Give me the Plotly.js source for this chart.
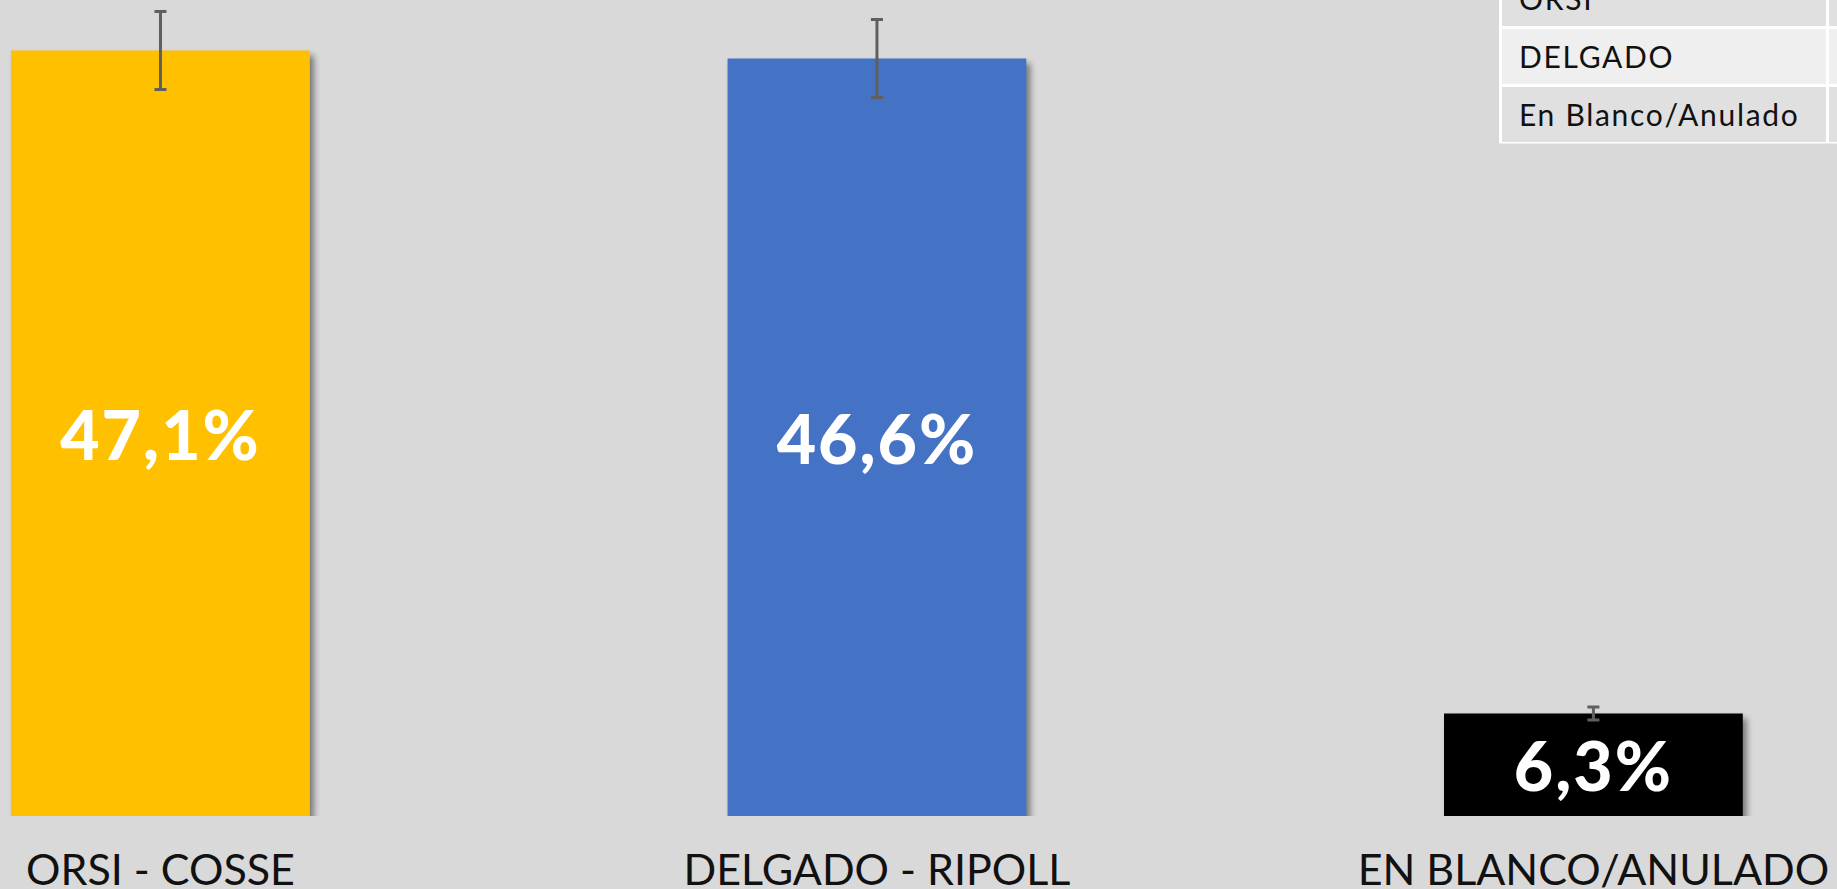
<!DOCTYPE html>
<html>
<head>
<meta charset="utf-8">
<script src="https://cdn.plot.ly/plotly-3.0.1.min.js"></script>
<style>
  html, body { margin: 0; padding: 0; background: #d9d9d9; }
  #chart { width: 1837px; height: 889px; }
  /* soft drop shadow under the bars, like the office-style original */
  #chart .trace.bars .point path { filter: drop-shadow(4px 5px 3px rgba(0, 0, 0, 0.45)); }
  #chart .trace.bars text { letter-spacing: 2px; }
  #chart .annotation-text { letter-spacing: 1.7px; }
</style>
</head>
<body>
<div id="chart"></div>
<script>
// Vote share per formula (%), with its margin of error
const candidates = ['ORSI - COSSE', 'DELGADO - RIPOLL', 'EN BLANCO/ANULADO'];
const voteShare = [47.1, 46.6, 6.3];
const marginError = [2.4, 2.4, 0.4];
const barColors = ['#FFC000', '#4472C4', '#000000'];

// Small legend table in the top right corner (cut off by the page edge)
const tableRows = ['ORSI', 'DELGADO', 'En Blanco/Anulado'];
const tableFills = ['#e0e0e0', '#efefef', '#e0e0e0'];

const W = 1837, H = 889, M_BOTTOM = 73;
const plotH = H - M_BOTTOM;
// pixel -> paper helpers for the table pieces
const px = v => v / W;
const py = v => (plotH - v) / plotH;

const shapes = [];
const annotations = [];
// white grid behind the cells
shapes.push({ type: 'rect', xref: 'paper', yref: 'paper', layer: 'above',
  x0: px(1499), x1: px(W + 20), y0: py(-40), y1: py(143.5),
  fillcolor: '#ffffff', line: { width: 0 } });
tableRows.forEach((label, i) => {
  const top = -29 + 58 * i;
  const bottom = top + 55;
  shapes.push({ type: 'rect', xref: 'paper', yref: 'paper', layer: 'above',
    x0: px(1502), x1: px(1826), y0: py(bottom), y1: py(top),
    fillcolor: tableFills[i], line: { width: 0 } });
  shapes.push({ type: 'rect', xref: 'paper', yref: 'paper', layer: 'above',
    x0: px(1829), x1: px(W + 20), y0: py(bottom), y1: py(top),
    fillcolor: tableFills[i], line: { width: 0 } });
  annotations.push({ xref: 'paper', yref: 'paper', x: px(1517), y: py((top + bottom) / 2),
    xanchor: 'left', yanchor: 'middle', align: 'left', text: label, showarrow: false,
    font: { family: 'Lato', size: 30, color: '#111111' } });
});

Plotly.newPlot('chart', [
  {
    type: 'bar',
    x: candidates,
    y: voteShare,
    width: 0.417,
    marker: { color: barColors, line: { width: 0 } },
    error_y: { type: 'data', array: marginError, visible: true, color: '#5f5f5f', thickness: 3, width: 6 },
    texttemplate: '%{y:.1f}%',
    textposition: 'inside',
    insidetextanchor: 'middle',
    constraintext: 'none',
    textfont: { family: 'Lato', size: 68, color: '#ffffff', weight: 900 },
    hoverinfo: 'skip',
  },
], {
  width: W,
  height: H,
  margin: { t: 0, r: 0, l: 0, b: M_BOTTOM },
  paper_bgcolor: '#d9d9d9',
  plot_bgcolor: '#d9d9d9',
  separators: ',.',
  showlegend: false,
  xaxis: {
    type: 'category',
    range: [-0.224, 2.34],
    ticks: '',
    ticklabelstandoff: 25,
    showgrid: false,
    zeroline: false,
    showline: false,
    tickfont: { family: 'Lato', size: 43, color: '#111111' },
  },
  yaxis: {
    range: [0, 50.2],
    visible: false,
    showgrid: false,
    zeroline: false,
  },
  shapes: shapes,
  annotations: annotations,
}, { staticPlot: true });
</script>
</body>
</html>
